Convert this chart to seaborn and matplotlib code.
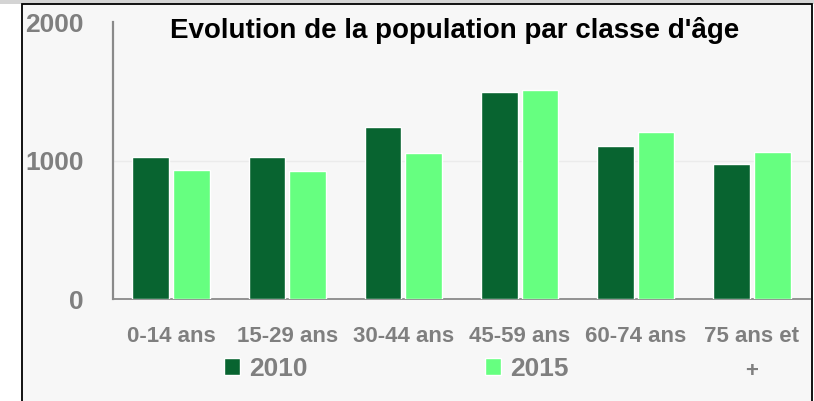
import pandas as pd
import matplotlib.pyplot as plt
import seaborn as sns
from matplotlib import font_manager
from matplotlib.patches import Rectangle

# donnees
classes = ["0-14 ans", "15-29 ans", "30-44 ans", "45-59 ans", "60-74 ans", "75 ans et\n+"]
annees = ["2010", "2015"]
pop_2010 = [1024, 1029, 1245, 1498, 1106, 976]
pop_2015 = [933, 923, 1058, 1510, 1209, 1060]
graduations = [0, 1000, 2000]

vert_fonce = "#086430"
vert_clair = "#66FF80"
gris = "#7f7f7f"

df = pd.DataFrame({
    "classe": classes * 2,
    "annee": [annees[0]] * len(classes) + [annees[1]] * len(classes),
    "pop": pop_2010 + pop_2015,
})

sns.set_style("white")
noms = {f.name for f in font_manager.fontManager.ttflist}
police = "Liberation Sans Narrow" if "Liberation Sans Narrow" in noms else "Liberation Sans"
plt.rcParams["font.family"] = [police, "DejaVu Sans"]
plt.rcParams["font.weight"] = "bold"

fig = plt.figure(figsize=(8.14, 4.01), dpi=100, facecolor="white")
# cadre du graphique
fig.patches.append(Rectangle((0, 1 - 4 / 401), 1, 4 / 401, transform=fig.transFigure,
                             facecolor="#d4d4d4", edgecolor="none", zorder=-2))
fig.patches.append(Rectangle((22 / 814, -0.01), 790 / 814, 1 - 4 / 401 + 0.01,
                             transform=fig.transFigure, facecolor="#f7f7f7",
                             edgecolor="black", linewidth=1.3, zorder=-1))

ax = fig.add_axes([113 / 814, 1 - 299.3 / 401, 697 / 814, 277.2 / 401])
ax.set_facecolor("none")
sns.barplot(data=df, x="classe", y="pop", hue="annee", order=classes, hue_order=annees,
            palette=[vert_fonce, vert_clair], saturation=1, width=0.7, gap=0.1,
            edgecolor="white", linewidth=1.0, ax=ax, zorder=3)

ax.set_ylim(0, 2000)
ax.set_yticks(graduations)
ax.set_yticklabels([str(g) for g in graduations])
ax.set_xlim(-0.5, len(classes) - 0.5)
ax.axhline(1000, color="#ebebeb", linewidth=1, zorder=1)
ax.set_xlabel("")
ax.set_ylabel("")
sns.despine(ax=ax, top=True, right=True)
ax.spines["left"].set_color("#8a8a8a")
ax.spines["left"].set_linewidth(1.6)
ax.spines["bottom"].set_color("#8a8a8a")
ax.spines["bottom"].set_linewidth(1.3)
ax.tick_params(axis="y", length=0, pad=21, labelsize=19, labelcolor=gris)
ax.tick_params(axis="x", length=0, pad=19, labelsize=16, labelcolor=gris)
for t in ax.get_xticklabels() + ax.get_yticklabels():
    t.set_fontweight("bold")
    t.set_linespacing(1.9)

fig.text(0.558, 1 - 31 / 401, "Evolution de la population par classe d'âge",
         ha="center", va="center", fontsize=20, fontweight="bold", color="black")

ax.legend_.remove()
poignees, etiquettes = ax.get_legend_handles_labels()
leg = fig.legend(poignees, etiquettes, loc="center", bbox_to_anchor=(0.487, 1 - 369 / 401),
                 ncol=2, frameon=False, columnspacing=6.7, handlelength=0.6,
                 handleheight=0.6, handletextpad=0.35,
                 prop={"size": 19, "weight": "bold"})
for t in leg.get_texts():
    t.set_color(gris)

fig.savefig("out.png", dpi=100)
